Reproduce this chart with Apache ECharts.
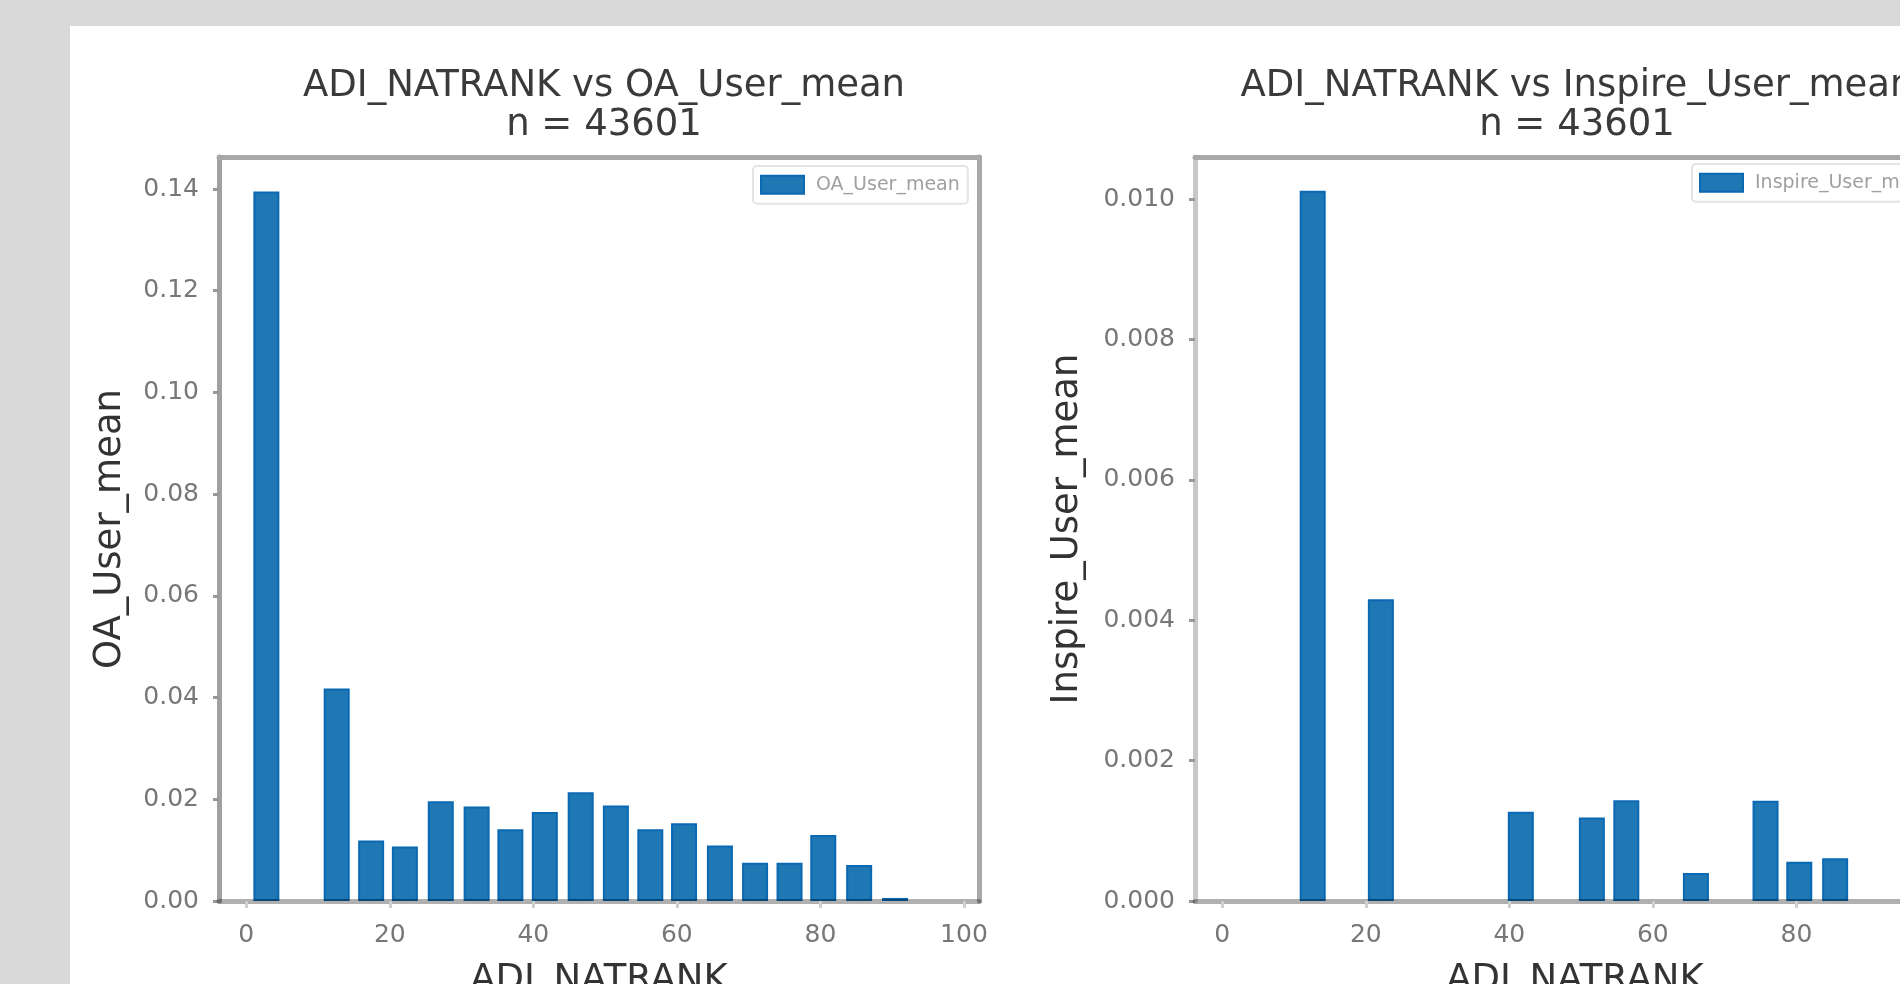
<!DOCTYPE html>
<html>
<head>
    <title>ADI_NATRANK bars</title>
    <script src="https://cdn.jsdelivr.net/npm/echarts@6.0.0/dist/echarts.min.js"></script>
    <style>
        body { margin: 0; background: #d9d9d9; }
        #chart { width: 1900px; height: 984px; }
    </style>
</head>
<body>
    <div id="chart"></div>

    <script>
        // bin centres on the ADI_NATRANK axis (same bins for both panels)
        const binCenters = [2.8, 12.6, 17.4, 22.1, 27.1, 32.1, 36.8, 41.6, 46.6, 51.5, 56.3, 61.0, 66.0, 70.9, 75.7, 80.4, 85.4, 90.4];
        const oaUserMean = [0.1395, 0.0418, 0.0119, 0.0107, 0.0196, 0.0186, 0.0141, 0.0175, 0.0214, 0.0188, 0.0141, 0.0153, 0.0109, 0.0075, 0.0075, 0.0130, 0.0071, 0.0006];
        const inspireUserMean = [null, 0.01012, null, 0.0043, null, null, null, 0.00127, null, 0.00119, 0.001435, null, 0.00040, null, 0.00143, 0.00056, 0.00061, null];

        const xTicks = [0, 20, 40, 60, 80, 100];
        const oaTicks = [0, 0.02, 0.04, 0.06, 0.08, 0.10, 0.12, 0.14];
        const inspireTicks = [0, 0.002, 0.004, 0.006, 0.008, 0.010];

        const sampleSize = 43601;
        const font = 'DejaVu Sans';

        function pairs(vals) {
            const out = [];
            vals.forEach((v, i) => { if (v !== null) out.push([binCenters[i], v]); });
            return out;
        }

        function bottomAxis(grid, name) {
            return {
                gridIndex: grid, type: 'value', position: 'bottom', min: -3.8, max: 102.1, z: 5,
                axisLine: { show: true, onZero: false, lineStyle: { color: 'rgba(0,0,0,0.31)', width: 5 } },
                axisTick: { show: true, customValues: xTicks, length: 7, lineStyle: { color: '#cfcfcf', width: 3 } },
                axisLabel: { customValues: xTicks, margin: 10, fontSize: 25, color: '#777', fontFamily: font },
                splitLine: { show: false },
                name: name, nameLocation: 'middle', nameGap: 43, nameMoveOverlap: false,
                nameTextStyle: { fontSize: 37, color: '#333', fontFamily: font }
            };
        }
        function topAxis(grid) {
            return {
                gridIndex: grid, type: 'value', position: 'top', min: -3.8, max: 102.1,
                axisLine: { show: true, onZero: false, lineStyle: { color: '#a8a8a8', width: 5 } },
                axisTick: { show: false }, axisLabel: { show: false }, splitLine: { show: false }
            };
        }
        function leftAxis(grid, max, ticks, digits, name, gap, lineColor) {
            return {
                gridIndex: grid, type: 'value', position: 'left', min: 0, max: max,
                axisLine: { show: true, onZero: false, lineStyle: { color: lineColor, width: 5 } },
                axisTick: { show: true, customValues: ticks, length: 6, lineStyle: { color: '#999', width: 3 } },
                axisLabel: { customValues: ticks, margin: 20, fontSize: 25, color: '#777', fontFamily: font,
                    formatter: v => v.toFixed(digits) },
                splitLine: { show: false },
                name: name, nameLocation: 'middle', nameGap: gap, nameRotate: 90, nameMoveOverlap: false,
                nameTextStyle: { fontSize: 37, color: '#333', fontFamily: font }
            };
        }
        function rightAxis(grid, max) {
            return {
                gridIndex: grid, type: 'value', position: 'right', min: 0, max: max,
                axisLine: { show: true, onZero: false, lineStyle: { color: '#a8a8a8', width: 5 } },
                axisTick: { show: false }, axisLabel: { show: false }, splitLine: { show: false }
            };
        }
        function legendBox(name, left, top) {
            return {
                data: [name], left: left, top: top, orient: 'vertical', icon: 'rect',
                itemWidth: 43, itemHeight: 18, padding: [0, 8, 0, 7],
                borderColor: '#e4e4e4', borderWidth: 2, borderRadius: 4, backgroundColor: '#fff',
                textStyle: { fontSize: 19, lineHeight: 18, color: '#a0a0a0', fontFamily: font, padding: [0, 0, 0, 7] }
            };
        }
        function titleFor(text, center) {
            return {
                text: text + '\nn = ' + sampleSize, left: center, textAlign: 'center', top: 62,
                textStyle: { fontSize: 37, fontWeight: 'normal', color: '#3a3a3a', lineHeight: 39, fontFamily: font }
            };
        }

        const barStyle = { color: '#1f77b4', borderColor: '#0a69b2', borderWidth: 2 };

        const chart = echarts.init(document.getElementById('chart'));
        chart.setOption({
            animation: false,
            textStyle: { fontFamily: font },
            graphic: [{ type: 'rect', z: -100, shape: { x: 70, y: 26, width: 1830, height: 958 }, style: { fill: '#fff' } }],
            title: [
                titleFor('ADI_NATRANK vs OA_User_mean', 599),
                titleFor('ADI_NATRANK vs Inspire_User_mean', 1572)
            ],
            legend: [
                legendBox('OA_User_mean', 753, 166),
                legendBox('Inspire_User_mean', 1692, 164)
            ],
            grid: [
                { left: 219, top: 157, width: 760, height: 744, outerBoundsMode: 'none', containLabel: false },
                { left: 1195, top: 157, width: 760, height: 744, outerBoundsMode: 'none', containLabel: false }
            ],
            xAxis: [bottomAxis(0, 'ADI_NATRANK'), topAxis(0), bottomAxis(1, 'ADI_NATRANK'), topAxis(1)],
            yAxis: [
                leftAxis(0, 0.1463, oaTicks, 2, 'OA_User_mean', 72, '#a0a0a0'), rightAxis(0, 0.1463),
                leftAxis(1, 0.0106, inspireTicks, 3, 'Inspire_User_mean', 91, '#c8c8c8'), rightAxis(1, 0.0106)
            ],
            series: [
                { type: 'bar', name: 'OA_User_mean', xAxisIndex: 0, yAxisIndex: 0, barWidth: 26,
                  itemStyle: barStyle, data: pairs(oaUserMean) },
                { type: 'bar', name: 'Inspire_User_mean', xAxisIndex: 2, yAxisIndex: 2, barWidth: 26,
                  itemStyle: barStyle, data: pairs(inspireUserMean) }
            ]
        });
    </script>
</body>
</html>
